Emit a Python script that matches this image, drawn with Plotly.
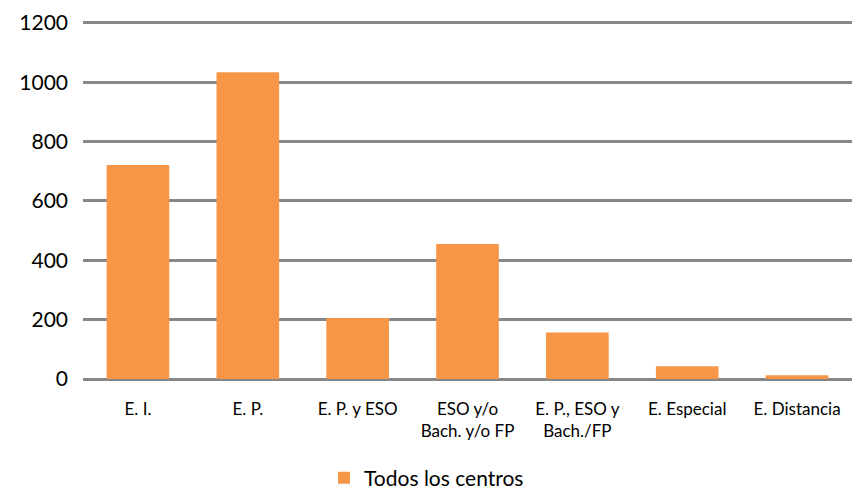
import plotly.graph_objects as go

categories = ["E. I.", "E. P.", "E. P. y ESO", "ESO y/o<br>Bach. y/o FP", "E. P., ESO y<br>Bach./FP", "E. Especial", "E. Distancia"]
values = [721, 1034, 206, 455, 157, 43, 13]
series_name = "Todos los centros"
y_ticks = [0, 200, 400, 600, 800, 1000, 1200]

fig = go.Figure()
fig.add_trace(go.Bar(x=categories, y=values, name=series_name,
                     marker=dict(color="#F79646", line=dict(width=0)),
                     showlegend=True))

fig.update_layout(
    width=853, height=493,
    margin=dict(l=83, r=1, t=20, b=114),
    paper_bgcolor="white", plot_bgcolor="white",
    font=dict(family="Lato, Open Sans, sans-serif", color="#000000"),
    bargap=0.43,
    showlegend=True,
    legend=dict(orientation="h", x=0.5, xanchor="center", xref="container",
                y=0.03, yanchor="middle", yref="container",
                font=dict(size=21), itemsizing="constant"),
    xaxis=dict(tickfont=dict(size=17), showgrid=False, showline=False, ticks="",
               tickangle=0, ticklabelstandoff=18, automargin=False),
    yaxis=dict(range=[0, 1210], tickvals=y_ticks, tickfont=dict(size=21),
               showgrid=True, gridcolor="#878787", gridwidth=3,
               zeroline=True, zerolinecolor="#878787", zerolinewidth=3,
               showline=False, ticks="", ticklabelstandoff=14, automargin=False),
)

fig.write_html("out.html", config={"displayModeBar": False},
               post_script="document.body.style.margin='0';document.body.style.overflow='hidden';")
